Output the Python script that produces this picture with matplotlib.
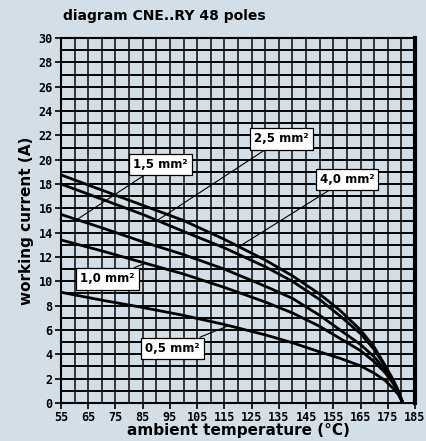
import matplotlib
matplotlib.use("Agg")
import matplotlib.pyplot as plt

# temperature points (deg C) and working current (A) per cross-section
temp = [55, 70, 85, 100, 115, 130, 140, 150, 157.5, 165, 170, 174, 177, 179, 180.5]
cur_40 = [18.75, 17.5, 16.25, 15.0, 13.45, 11.75, 10.45, 8.95, 7.6, 6.0, 4.6, 3.1, 1.9, 0.95, 0]
cur_25 = [18.0, 16.75, 15.5, 14.1, 12.75, 11.2, 10.0, 8.5, 7.15, 5.7, 4.4, 3.0, 1.85, 0.92, 0]
cur_15 = [15.5, 14.4, 13.25, 12.2, 11.0, 9.6, 8.6, 7.2, 6.0, 4.8, 3.8, 2.7, 1.7, 0.85, 0]
cur_10 = [13.4, 12.5, 11.55, 10.6, 9.5, 8.3, 7.4, 6.3, 5.3, 4.3, 3.4, 2.5, 1.6, 0.8, 0]
cur_05 = [9.1, 8.45, 7.85, 7.2, 6.45, 5.6, 4.95, 4.2, 3.67, 3.05, 2.45, 1.85, 1.2, 0.65, 0]

labels = ["4,0 mm²", "2,5 mm²", "1,5 mm²", "1,0 mm²", "0,5 mm²"]
# label box position and the point on the curve it points at
label_xy = [(160, 18.4), (136, 21.7), (91.5, 19.6), (72, 10.2), (96, 4.5)]
point_xy = [(120, 12.8), (90.3, 15.0), (61, 15.1), (86, 11.5), (117, 6.4)]

x_ticks = list(range(55, 186, 10))
y_ticks = list(range(0, 31, 2))

bg = "#d3dee6"
fig = plt.figure(figsize=(4.27, 4.41), dpi=100, facecolor=bg)
ax = fig.add_axes([0.1429, 0.0862, 0.829, 0.8276], facecolor=bg)

# grid: every 5 deg and every 1 A
for xv in range(55, 186, 5):
    ax.axvline(xv, color="#1a1a1a", lw=1.2, zorder=1)
for yv in range(0, 31):
    ax.axhline(yv, color="#000000", lw=1.4, zorder=1)

for ys in [cur_40, cur_25, cur_15, cur_10, cur_05]:
    ax.plot(temp, ys, color="black", lw=2.0, zorder=3, solid_joinstyle="round")

for lab, txy, pxy in zip(labels, label_xy, point_xy):
    ax.annotate(lab, xy=pxy, xytext=txy, ha="center", va="center",
                fontsize=8.5, fontweight="bold", family="DejaVu Sans", zorder=5,
                bbox=dict(boxstyle="square,pad=0.35", fc="white", ec="black", lw=0.9),
                arrowprops=dict(arrowstyle="-", color="black", lw=0.8, shrinkA=0, shrinkB=0))

ax.set_xlim(55, 185)
ax.set_ylim(0, 30)
ax.set_xticks(x_ticks)
ax.set_yticks(y_ticks)
ax.tick_params(direction="out", length=4, width=1.2, labelsize=8.5, pad=2)
for t in ax.get_xticklabels() + ax.get_yticklabels():
    t.set_fontweight("bold")
    t.set_family("DejaVu Sans Mono")

for s in ["top", "bottom", "left"]:
    ax.spines[s].set_linewidth(1.5)
ax.spines["right"].set_linewidth(3)

ax.set_xlabel("ambient temperature (°C)", fontsize=11, fontweight="bold", labelpad=-1)
ax.set_ylabel("working current (A)", fontsize=11, fontweight="bold", labelpad=3)
fig.text(0.147, 0.963, "diagram CNE..RY 48 poles", fontsize=10, fontweight="bold",
         ha="left", va="center")

fig.savefig("out.png", dpi=100, facecolor=bg)
